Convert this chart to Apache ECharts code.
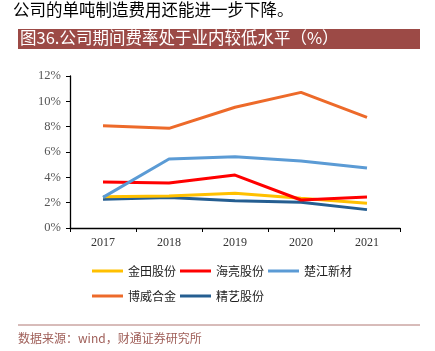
<!DOCTYPE html>
<html>
<head>
<meta charset="utf-8">
<script src="https://cdn.jsdelivr.net/npm/echarts@6/dist/echarts.min.js"></script>
<style>
  html, body { margin: 0; padding: 0; background: #fff; }
  #chart { width: 435px; height: 351px; }
</style>
</head>
<body>
<div id="chart"></div>
<script>
// 数据
var years = ['2017', '2018', '2019', '2020', '2021'];
var jintian = [2.47, 2.53, 2.74, 2.34, 1.95];   // 金田股份
var hailiang = [3.63, 3.55, 4.18, 2.21, 2.45];  // 海亮股份
var chujiang = [2.42, 5.45, 5.63, 5.29, 4.74];  // 楚江新材
var bowei = [8.08, 7.87, 9.53, 10.71, 8.74];    // 博威合金
var jingyi = [2.26, 2.40, 2.16, 2.03, 1.45];    // 精艺股份

var cjk = '"Noto Sans CJK SC", sans-serif';
var serif = '"Liberation Serif", "DejaVu Serif", serif';

var myChart = echarts.init(document.getElementById('chart'));

function line(name, data, color, z) {
    return {
        name: name,
        type: 'line',
        data: data,
        symbol: 'none',
        z: z,
        lineStyle: { color: color, width: 3 },
        itemStyle: { color: color }
    };
}

var option = {
    backgroundColor: '#fff',
    animation: false,
    graphic: [
        {
            type: 'text', left: 13, top: 1,
            style: { text: '公司的单吨制造费用还能进一步下降。', fill: '#000', font: '16.5px ' + cjk }
        },
        {
            type: 'rect', shape: { x: 18, y: 29, width: 402, height: 20 },
            style: { fill: '#9C4A46' }
        },
        {
            type: 'text', left: 20, top: 29,
            style: { text: '图36.公司期间费率处于业内较低水平（%）', fill: '#fff', font: '16.5px ' + cjk }
        },
        {
            type: 'line', shape: { x1: 18, y1: 325, x2: 420, y2: 325 },
            style: { stroke: '#B07874', lineWidth: 1 }
        },
        {
            type: 'text', left: 18, top: 332,
            style: { text: '数据来源：wind，财通证券研究所', fill: '#A0605A', font: '12px ' + cjk }
        }
    ],
    grid: { left: 70, right: 35, top: 76, bottom: 123 },
    legend: [
        {
            left: 92, top: 265, itemGap: 4, itemWidth: 31, itemHeight: 3,
            icon: 'rect', padding: 0,
            data: ['金田股份', '海亮股份', '楚江新材'],
            textStyle: { fontFamily: cjk, fontSize: 12, color: '#222' }
        },
        {
            left: 92, top: 290, itemGap: 4, itemWidth: 31, itemHeight: 3,
            icon: 'rect', padding: 0,
            data: ['博威合金', '精艺股份'],
            textStyle: { fontFamily: cjk, fontSize: 12, color: '#222' }
        }
    ],
    xAxis: {
        type: 'category',
        data: years,
        axisLine: { lineStyle: { color: '#000', width: 1.3 } },
        axisTick: { show: true, length: 4, lineStyle: { color: '#000' } },
        axisLabel: { color: '#333', fontFamily: serif, fontSize: 12, margin: 9 }
    },
    yAxis: {
        type: 'value',
        min: 0, max: 12, interval: 2,
        splitLine: { show: false },
        axisLine: { show: true, lineStyle: { color: '#000', width: 1.3 } },
        axisTick: { show: true, length: 4, lineStyle: { color: '#000' } },
        axisLabel: { color: '#555', fontFamily: serif, fontSize: 12.5, margin: 9, formatter: '{value}%' }
    },
    series: [
        line('金田股份', jintian, '#FFC000', 3),
        line('海亮股份', hailiang, '#FF0000', 4),
        line('楚江新材', chujiang, '#5B9BD5', 5),
        line('博威合金', bowei, '#ED6A2A', 6),
        line('精艺股份', jingyi, '#255E91', 2)
    ]
};

myChart.setOption(option);
</script>
</body>
</html>
